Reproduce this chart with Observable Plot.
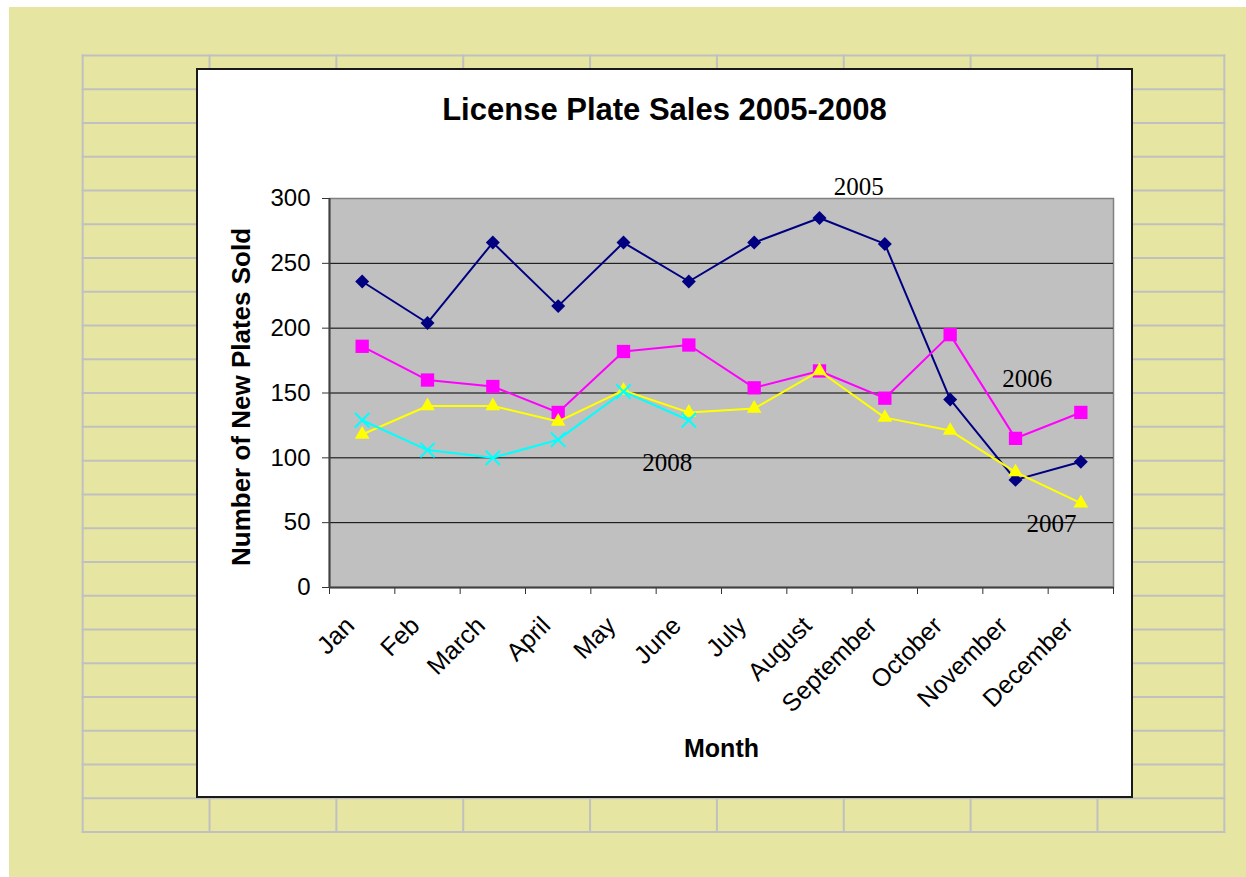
<!DOCTYPE html>
<html>
<head>
<meta charset="utf-8">
<script src="https://cdn.jsdelivr.net/npm/d3@7"></script>
<script src="https://cdn.jsdelivr.net/npm/@observablehq/plot@0.6"></script>
<style>
html, body { margin: 0; padding: 0; background: #fff; }
#page { position: relative; width: 1246px; height: 877px; overflow: hidden; font-family: "Liberation Sans", Arial, sans-serif; }
#bg { position: absolute; left: 0; top: 0; }
#box { position: absolute; left: 196px; top: 68px; width: 937px; height: 730px; box-sizing: border-box; border: 2px solid #1a1a1a; background: #fff; }
#title { position: absolute; left: 196px; width: 937px; top: 93px; text-align: center; font-weight: bold; font-size: 31px; line-height: 34px; color: #000; }
#chart { position: absolute; left: 196px; top: 68px; width: 937px; height: 730px; }
</style>
</head>
<body>
<div id="page">
  <svg id="bg" width="1246" height="877"></svg>
  <div id="box"></div>
  <div id="title">License Plate Sales 2005-2008</div>
  <div id="chart"></div>
</div>
<script>
// ---- data ----
const months = ["Jan", "Feb", "March", "April", "May", "June", "July", "August", "September", "October", "November", "December"];
const sales2005 = [236, 204, 266, 217, 266, 236, 266, 285, 265, 145, 83, 97];
const sales2006 = [186, 160, 155, 135, 182, 187, 154, 167, 146, 195, 115, 135];
const sales2007 = [118, 140, 140, 128, 152, 135, 138, 167, 131, 121, 89, 65];
const sales2008 = [129, 106, 100, 114, 151, 129];
const yTicks = [0, 50, 100, 150, 200, 250, 300];
const seriesNames = ["2005", "2006", "2007", "2008"];
// where each series name is written (month units, value units)
const seriesLabelMonth = [8.1, 10.68, 11.05, 5.17];
const seriesLabelValue = [309, 161, 49, 96];

// ---- background spreadsheet ----
const bg = d3.select("#bg");
bg.append("rect").attr("x", 9).attr("y", 7).attr("width", 1237).attr("height", 870).attr("fill", "#e6e6a2");
const gx0 = 82.7, gx1 = 1224.3, gy0 = 55.5, gy1 = 832;
for (let i = 0; i <= 9; i++) {
  const x = gx0 + i * (gx1 - gx0) / 9;
  bg.append("line").attr("x1", x).attr("x2", x).attr("y1", gy0 - 1).attr("y2", gy1 + 1).attr("stroke", "#c0c0c0").attr("stroke-width", 2);
}
for (let j = 0; j <= 23; j++) {
  const y = gy0 + j * (gy1 - gy0) / 23;
  bg.append("line").attr("x1", gx0 - 1).attr("x2", gx1 + 1).attr("y1", y).attr("y2", y).attr("stroke", "#c0c0c0").attr("stroke-width", 2);
}

// ---- tidy table ----
const seriesValues = [sales2005, sales2006, sales2007, sales2008];
const rows = [];
seriesValues.forEach((arr, s) => arr.forEach((v, i) => rows.push({series: seriesNames[s], month: months[i], pos: i + 0.5, value: v})));
const bySeries = name => rows.filter(d => d.series === name);

const styles = {
  "2005": {color: "#000080", symbol: "diamond2", r: 6.3},
  "2006": {color: "#ff00ff", symbol: "square", r: 7.5},
  "2007": {color: "#ffff00", symbol: "triangle2", r: 7.0},
  "2008": {color: "#00ffff", symbol: "times", r: 6.6}
};

const seriesMarks = [];
for (const name of seriesNames) {
  const st = styles[name];
  seriesMarks.push(Plot.line(bySeries(name), {x: "pos", y: "value", stroke: st.color, strokeWidth: 2}));
  if (st.symbol === "times") {
    seriesMarks.push(Plot.dot(bySeries(name), {x: "pos", y: "value", symbol: st.symbol, r: st.r, stroke: st.color, fill: "none", strokeWidth: 2}));
  } else {
    seriesMarks.push(Plot.dot(bySeries(name), {x: "pos", y: "value", symbol: st.symbol, r: st.r, fill: st.color, stroke: "none"}));
  }
}

const chart = Plot.plot({
  width: 937,
  height: 730,
  marginLeft: 133,
  marginRight: 20,
  marginTop: 130,
  marginBottom: 211,
  x: {type: "linear", domain: [0, 12], label: null},
  y: {domain: [0, 300], label: null},
  style: {background: "transparent", fontFamily: "'Liberation Sans', Arial, sans-serif", fontSize: "24px", color: "#000", overflow: "visible"},
  marks: [
    Plot.frame({fill: "#c0c0c0", stroke: "#808080", strokeWidth: 1.5}),
    Plot.ruleY(yTicks.filter(v => v > 0 && v < 300), {stroke: "#000", strokeWidth: 1}),
    Plot.axisY(yTicks, {tickSize: 7, tickPadding: 12, stroke: "#333", label: null}),
    Plot.axisX(d3.range(months.length + 1), {tickSize: 7, tickFormat: () => "", label: null, stroke: "#333"}),
    Plot.axisX(months.map((m, i) => i + 0.5), {
      tickSize: 0, tickPadding: 34, tickRotate: -45, textAnchor: "end", lineAnchor: "middle", dx: -12,
      fontSize: 25, tickFormat: d => months[Math.floor(d)], label: null
    }),
    Plot.ruleX([0], {stroke: "#404040", strokeWidth: 2}),
    Plot.ruleY([0], {stroke: "#404040", strokeWidth: 2}),
    ...seriesMarks,
    Plot.text(seriesNames, {x: seriesLabelMonth, y: seriesLabelValue, text: d => d, fontFamily: "'Liberation Serif', 'Times New Roman', serif", fontSize: 25, fill: "#000"}),
    Plot.text(["Number of New Plates Sold"], {frameAnchor: "left", dx: -88, dy: 4, rotate: -90, textAnchor: "middle", fontWeight: "bold", fontSize: 26, fill: "#000"}),
    Plot.text(["Month"], {frameAnchor: "bottom", dy: 169, textAnchor: "middle", fontWeight: "bold", fontSize: 25, fill: "#000"})
  ]
});
document.getElementById("chart").appendChild(chart);
</script>
</body>
</html>
